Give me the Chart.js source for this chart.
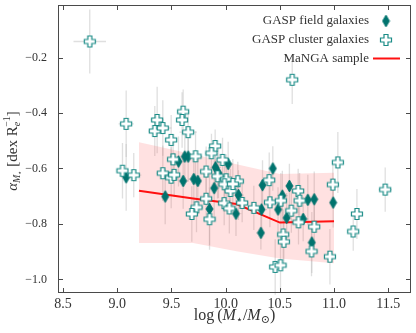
<!DOCTYPE html>
<html>
<head>
<meta charset="utf-8">
<script src="https://cdn.jsdelivr.net/npm/chart.js@4.4.1/dist/chart.umd.min.js"></script>
<style>
  html, body { margin: 0; padding: 0; background: #fff; }
  #wrap { width: 416px; height: 333px; }
</style>
</head>
<body>
<div id="wrap"><canvas id="chart"></canvas></div>
<script>
// GASP cluster galaxies (open crosses)
const clusterMass = [8.746, 10.614, 9.082, 9.368, 9.346, 9.420, 9.608, 9.598, 9.654, 9.497,
  9.903, 9.869, 9.515, 9.722, 9.971, 9.048, 9.152, 9.420, 9.497, 9.525,
  9.820, 9.925, 10.005, 9.989, 10.045, 10.112, 10.066, 11.035, 10.989, 10.402,
  10.669, 10.682, 11.472, 9.820, 9.731, 9.688, 9.851, 9.986, 10.034, 10.152,
  10.260, 10.408, 10.509, 10.606, 10.672, 10.817, 10.531, 10.537, 10.792, 10.962,
  11.177, 11.211, 10.457, 10.506];
const clusterAlpha = [-0.142, -0.280, -0.439, -0.425, -0.465, -0.454, -0.395, -0.425, -0.469, -0.497,
  -0.519, -0.545, -0.567, -0.556, -0.569, -0.608, -0.624, -0.617, -0.633, -0.623,
  -0.611, -0.628, -0.639, -0.657, -0.681, -0.646, -0.656, -0.578, -0.658, -0.642,
  -0.681, -0.716, -0.676, -0.709, -0.740, -0.764, -0.783, -0.725, -0.744, -0.724,
  -0.742, -0.722, -0.716, -0.752, -0.794, -0.810, -0.838, -0.864, -0.899, -0.918,
  -0.827, -0.764, -0.955, -0.949];
const clusterMassErr = [0.15, 0.03, 0.07, 0.06, 0.06, 0.08, 0.04, 0.05, 0.08, 0.05,
  0.05, 0.06, 0.05, 0.06, 0.05, 0.05, 0.07, 0.06, 0.07, 0.05,
  0.05, 0.06, 0.05, 0.05, 0.06, 0.05, 0.05, 0.04, 0.04, 0.05,
  0.05, 0.04, 0.06, 0.05, 0.06, 0.05, 0.05, 0.05, 0.05, 0.06,
  0.05, 0.05, 0.04, 0.05, 0.04, 0.05, 0.04, 0.04, 0.05, 0.04,
  0.04, 0.04, 0.04, 0.04];
const clusterAlphaErr = [0.115, 0.087, 0.12, 0.12, 0.09, 0.10, 0.08, 0.10, 0.07, 0.09,
  0.06, 0.07, 0.08, 0.09, 0.08, 0.10, 0.08, 0.10, 0.11, 0.08,
  0.09, 0.08, 0.09, 0.10, 0.08, 0.07, 0.09, 0.11, 0.08, 0.10,
  0.08, 0.10, 0.08, 0.08, 0.09, 0.10, 0.11, 0.08, 0.09, 0.07,
  0.08, 0.09, 0.10, 0.08, 0.08, 0.08, 0.09, 0.08, 0.09, 0.10,
  0.07, 0.09, 0.10, 0.09];

// GASP field galaxies (filled diamonds)
const fieldMass = [9.082, 9.442, 9.565, 9.608, 9.623, 9.654, 9.706, 9.743, 9.906, 9.934,
  9.894, 10.023, 10.118, 9.851, 10.095, 10.435, 10.340, 10.588, 10.523, 10.483,
  10.331, 10.325, 10.563, 10.715, 10.758, 10.817, 10.992, 10.795];
const fieldAlpha = [-0.632, -0.701, -0.575, -0.645, -0.557, -0.557, -0.638, -0.645, -0.596, -0.617,
  -0.671, -0.584, -0.696, -0.746, -0.763, -0.600, -0.660, -0.663, -0.698, -0.748,
  -0.748, -0.832, -0.778, -0.782, -0.713, -0.711, -0.723, -0.867];
const fieldMassErr = [0.05, 0.04, 0.05, 0.05, 0.04, 0.04, 0.05, 0.04, 0.05, 0.04,
  0.05, 0.04, 0.05, 0.04, 0.05, 0.04, 0.04, 0.04, 0.05, 0.04,
  0.05, 0.04, 0.04, 0.05, 0.04, 0.04, 0.04, 0.04];
const fieldAlphaErr = [0.12, 0.10, 0.09, 0.10, 0.08, 0.09, 0.10, 0.09, 0.08, 0.09,
  0.10, 0.08, 0.09, 0.13, 0.08, 0.08, 0.09, 0.08, 0.09, 0.08,
  0.09, 0.06, 0.09, 0.08, 0.09, 0.10, 0.09, 0.11];

// MaNGA sample: median and spread
const mangaMass = [9.2, 9.7, 10.1, 10.5, 11.0];
const mangaAlpha = [-0.680, -0.708, -0.728, -0.795, -0.790];
const mangaUpper = [-0.505, -0.549, -0.585, -0.620, -0.615];
const mangaLower = [-0.869, -0.869, -0.898, -0.925, -0.942];

const xTicks = [8.5, 9.0, 9.5, 10.0, 10.5, 11.0, 11.5];
const yTicks = [-1.0, -0.8, -0.6, -0.4, -0.2];

const TEAL = '#00736e';
const TEAL_EDGE = '#1b8c87';
const SERIF = '"Liberation Serif", "DejaVu Serif", serif';

const toPts = (xs, ys) => xs.map((x, i) => ({ x: x, y: ys[i] }));

// marker images
function diamondMarker() {
  const c = document.createElement('canvas');
  c.width = 9; c.height = 14;
  const g = c.getContext('2d');
  g.beginPath();
  g.moveTo(4.5, 1); g.lineTo(8, 7); g.lineTo(4.5, 13); g.lineTo(1, 7);
  g.closePath();
  g.fillStyle = TEAL; g.fill();
  g.strokeStyle = TEAL; g.lineWidth = 0.8; g.stroke();
  return c;
}
function plusMarker() {
  const c = document.createElement('canvas');
  c.width = 14; c.height = 14;
  const g = c.getContext('2d');
  const a = 1.5, b = 5, d = 9, e = 12.5;
  g.beginPath();
  g.moveTo(b, a); g.lineTo(d, a); g.lineTo(d, b); g.lineTo(e, b); g.lineTo(e, d);
  g.lineTo(d, d); g.lineTo(d, e); g.lineTo(b, e); g.lineTo(b, d); g.lineTo(a, d);
  g.lineTo(a, b); g.lineTo(b, b); g.closePath();
  g.fillStyle = '#fff'; g.fill();
  g.strokeStyle = TEAL_EDGE; g.lineWidth = 1.2; g.stroke();
  return c;
}
const diamondImg = diamondMarker();
const plusImg = plusMarker();

// error bars, drawn under the markers
const errorBars = {
  id: 'errorBars',
  beforeDatasetsDraw(chart) {
    const { ctx, scales: { x, y } } = chart;
    ctx.save();
    ctx.strokeStyle = 'rgba(185,185,185,0.45)';
    ctx.lineWidth = 1.3;
    const draw = (xs, ys, exs, eys) => {
      xs.forEach((v, i) => {
        const px = x.getPixelForValue(v), py = y.getPixelForValue(ys[i]);
        ctx.beginPath();
        ctx.moveTo(x.getPixelForValue(v - exs[i]), py);
        ctx.lineTo(x.getPixelForValue(v + exs[i]), py);
        ctx.moveTo(px, y.getPixelForValue(ys[i] - eys[i]));
        ctx.lineTo(px, y.getPixelForValue(ys[i] + eys[i]));
        ctx.stroke();
      });
    };
    draw(clusterMass, clusterAlpha, clusterMassErr, clusterAlphaErr);
    draw(fieldMass, fieldAlpha, fieldMassErr, fieldAlphaErr);
    ctx.restore();
  }
};

// frame, inward ticks, axis titles and legend
function richText(ctx, parts, x, y) {
  let w = 0;
  parts.forEach(p => { ctx.font = p.font; w += ctx.measureText(p.t).width + (p.gap || 0); });
  let cx = x - w / 2;
  parts.forEach(p => {
    ctx.font = p.font;
    ctx.fillText(p.t, cx, y + (p.dy || 0));
    cx += ctx.measureText(p.t).width + (p.gap || 0);
  });
}

const decorations = {
  id: 'decorations',
  afterDraw(chart) {
    const { ctx, chartArea: a, scales: { x, y } } = chart;
    ctx.save();
    ctx.strokeStyle = '#4a4a4a';
    ctx.lineWidth = 1;
    ctx.strokeRect(a.left + 0.5, a.top + 0.5, a.right - a.left - 1, a.bottom - a.top - 1);
    ctx.beginPath();
    xTicks.forEach(v => {
      const px = Math.round(x.getPixelForValue(v)) + 0.5;
      ctx.moveTo(px, a.bottom); ctx.lineTo(px, a.bottom - 5);
      ctx.moveTo(px, a.top); ctx.lineTo(px, a.top + 5);
    });
    yTicks.forEach(v => {
      const py = Math.round(y.getPixelForValue(v)) + 0.5;
      ctx.moveTo(a.left, py); ctx.lineTo(a.left + 5, py);
      ctx.moveTo(a.right, py); ctx.lineTo(a.right - 5, py);
    });
    ctx.stroke();

    // axis titles
    ctx.fillStyle = '#333';
    ctx.textBaseline = 'alphabetic';
    const f = 16, s = 11;
    richText(ctx, [
      { t: 'log', font: f + 'px ' + SERIF, gap: 3 },
      { t: '(', font: f + 'px ' + SERIF },
      { t: 'M', font: 'italic ' + f + 'px ' + SERIF },
      { t: '\u22C6', font: s + 'px ' + SERIF, dy: 3 },
      { t: '/', font: f + 'px ' + SERIF },
      { t: 'M', font: 'italic ' + f + 'px ' + SERIF },
      { t: '\u2299', font: s + 'px ' + SERIF, dy: 3 },
      { t: ')', font: f + 'px ' + SERIF }
    ], (a.left + a.right) / 2, 320);

    ctx.save();
    ctx.translate(17, (a.top + a.bottom) / 2 + 2);
    ctx.rotate(-Math.PI / 2);
    const fy = 15, sy = 10;
    richText(ctx, [
      { t: '\u03B1', font: 'italic ' + fy + 'px ' + SERIF },
      { t: 'M', font: 'italic ' + sy + 'px ' + SERIF, dy: 3 },
      { t: '\u22C6', font: '7px ' + SERIF, dy: 5, gap: 4 },
      { t: '[dex R', font: fy + 'px ' + SERIF },
      { t: 'e', font: 'italic ' + sy + 'px ' + SERIF, dy: 3, gap: -5 },
      { t: '\u22121', font: sy + 'px ' + SERIF, dy: -7 },
      { t: ']', font: fy + 'px ' + SERIF }
    ], 0, 0);
    ctx.restore();

    // legend (markers on the right)
    const rows = [
      { label: 'GASP field galaxies', y: 21, kind: 'diamond' },
      { label: 'GASP cluster galaxies', y: 40, kind: 'plus' },
      { label: 'MaNGA sample', y: 58.5, kind: 'line' }
    ];
    ctx.font = '13px ' + SERIF;
    ctx.textAlign = 'right';
    ctx.textBaseline = 'middle';
    rows.forEach(r => {
      ctx.fillText(r.label, 369, r.y);
      if (r.kind === 'diamond') ctx.drawImage(diamondImg, 386 - 4.5, r.y - 7);
      else if (r.kind === 'plus') ctx.drawImage(plusImg, 386 - 7, r.y - 7);
      else {
        ctx.strokeStyle = '#ff1010'; ctx.lineWidth = 2;
        ctx.beginPath(); ctx.moveTo(373, r.y); ctx.lineTo(400, r.y); ctx.stroke();
      }
    });
    ctx.restore();
  }
};

const fmt = v => (v < 0 ? '\u2212' : '') + Math.abs(v).toFixed(1);

new Chart(document.getElementById('chart'), {
  type: 'scatter',
  data: {
    datasets: [
      {
        label: 'MaNGA upper',
        data: toPts(mangaMass, mangaUpper),
        showLine: true, borderWidth: 0, pointRadius: 0,
        backgroundColor: 'rgba(255,40,40,0.14)', fill: '+1', order: 5
      },
      {
        label: 'MaNGA lower',
        data: toPts(mangaMass, mangaLower),
        showLine: true, borderWidth: 0, pointRadius: 0, fill: false, order: 5
      },
      {
        label: 'MaNGA sample',
        data: toPts(mangaMass, mangaAlpha),
        showLine: true, borderColor: '#ff1010', borderWidth: 2, pointRadius: 0,
        fill: false, order: 3
      },
      {
        label: 'GASP field galaxies',
        data: toPts(fieldMass, fieldAlpha),
        pointStyle: diamondImg, order: 2
      },
      {
        label: 'GASP cluster galaxies',
        data: toPts(clusterMass, clusterAlpha),
        pointStyle: plusImg, order: 1
      }
    ]
  },
  options: {
    responsive: true,
    maintainAspectRatio: false,
    animation: false,
    events: [],
    layout: { padding: { top: 4, right: 5, left: 0, bottom: 0 } },
    plugins: { legend: { display: false }, tooltip: { enabled: false } },
    scales: {
      x: {
        type: 'linear', min: 8.453, max: 11.71,
        afterBuildTicks: s => { s.ticks = xTicks.map(v => ({ value: v })); },
        afterFit: s => { s.height = 40; s.paddingLeft = 0; s.paddingRight = 0; },
        grid: { display: false, drawTicks: false },
        border: { display: false },
        ticks: {
          padding: 3, color: '#333', maxRotation: 0,
          font: { family: SERIF, size: 14 },
          callback: v => v.toFixed(1)
        }
      },
      y: {
        type: 'linear', min: -1.049, max: -0.0104,
        afterBuildTicks: s => { s.ticks = yTicks.map(v => ({ value: v })); },
        afterFit: s => { s.width = 58; s.paddingTop = 0; s.paddingBottom = 0; },
        grid: { display: false, drawTicks: false },
        border: { display: false },
        ticks: {
          padding: 11, color: '#333',
          font: { family: SERIF, size: 12 },
          callback: v => fmt(v)
        }
      }
    }
  },
  plugins: [errorBars, decorations]
});
</script>
</body>
</html>
